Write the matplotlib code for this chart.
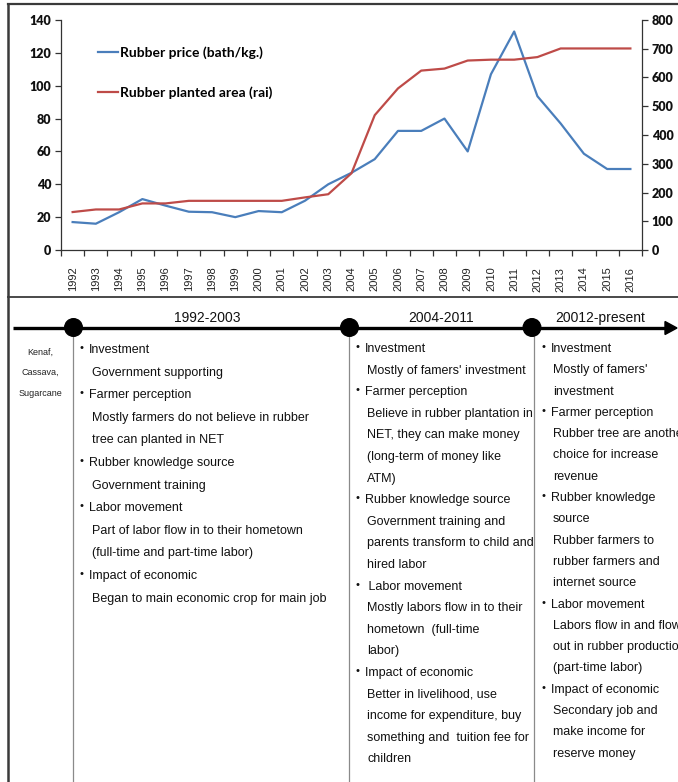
import numpy as np
import matplotlib
matplotlib.use("Agg")
import matplotlib.pyplot as plt
from matplotlib.patches import Circle, Polygon

# data
years = [str(y) for y in range(1992, 2017)]
price = [17, 16, 23, 31, 27, 23.3, 23, 20, 23.7, 23, 30, 40, 47,
         55.3, 72.5, 72.5, 80, 60, 107, 133, 93.6, 77, 58.6, 49.3, 49.3]
area = [132, 141, 141, 162, 162, 171, 171, 171, 171, 171, 183, 194, 267,
        469, 562, 624, 631, 659, 662, 662, 671, 701, 701, 701, 701]

periods = ["1992-2003", "2004-2011", "20012-present"]
old_crops = ["Kenaf,", "Cassava,", "Sugarcane"]

# timeline notes: ("h", text) = bulleted heading, ("s", text) = sub line
notes_1 = [("h", "Investment"), ("s", "Government supporting"),
           ("h", "Farmer perception"), ("s", "Mostly farmers do not believe in rubber"),
           ("s", "tree can planted in NET"),
           ("h", "Rubber knowledge source"), ("s", "Government training"),
           ("h", "Labor movement"), ("s", "Part of labor flow in to their hometown"),
           ("s", "(full-time and part-time labor)"),
           ("h", "Impact of economic"), ("s", "Began to main economic crop for main job")]
notes_2 = [("h", "Investment"), ("s", "Mostly of famers' investment"),
           ("h", "Farmer perception"), ("s", "Believe in rubber plantation in"),
           ("s", "NET, they can make money"), ("s", "(long-term of money like"),
           ("s", "ATM)"),
           ("h", "Rubber knowledge source"), ("s", "Government training and"),
           ("s", "parents transform to child and"), ("s", "hired labor"),
           ("h", " Labor movement"), ("s", "Mostly labors flow in to their"),
           ("s", "hometown  (full-time"), ("s", "labor)"),
           ("h", "Impact of economic"), ("s", "Better in livelihood, use"),
           ("s", "income for expenditure, buy"), ("s", "something and  tuition fee for"),
           ("s", "children")]
notes_3 = [("h", "Investment"), ("s", "Mostly of famers'"), ("s", "investment"),
           ("h", "Farmer perception"), ("s", "Rubber tree are another"),
           ("s", "choice for increase"), ("s", "revenue"),
           ("h", "Rubber knowledge"), ("s", "source"), ("s", "Rubber farmers to"),
           ("s", "rubber farmers and"), ("s", "internet source"),
           ("h", "Labor movement"), ("s", "Labors flow in and flow"),
           ("s", "out in rubber production"), ("s", "(part-time labor)"),
           ("h", "Impact of economic"), ("s", "Secondary job and"),
           ("s", "make income for"), ("s", "reserve money")]

W, H = 678, 782
fig = plt.figure(figsize=(W / 100, H / 100), dpi=100)
fig.patch.set_facecolor("white")

# overlay in pixel units for frames and the timeline
ov = fig.add_axes([0, 0, 1, 1])
ov.set_xlim(0, W)
ov.set_ylim(H, 0)
ov.axis("off")

frame = "#3a3a3a"
ov.plot([7.5, W], [3.5, 3.5], color=frame, lw=1.6)
ov.plot([7.5, 7.5], [3.5, H], color=frame, lw=1.8)
ov.plot([7.5, W], [297, 297], color=frame, lw=1.3)

# timeline arrow
ov.plot([13, 667], [328, 328], color="black", lw=2.4, solid_capstyle="butt")
ov.add_patch(Polygon([[665, 321.5], [677, 328], [665, 334.5]], closed=True,
                     color="black"))
for cx in [73.5, 349.5, 532]:
    ov.add_patch(Circle((cx, 327.5), 8.8, color="black", zorder=3))
for vx in [72.5, 348.5, 533.5]:
    ov.plot([vx, vx], [328, H], color="#8a8a8a", lw=0.9, zorder=1)

tfont = "Liberation Sans"
for lab, cx in zip(periods, [207, 441, 600]):
    ov.text(cx, 318, lab, ha="center", va="center", fontsize=10,
            family=tfont, color="#111")
for i, c in enumerate(old_crops):
    ov.text(40, 352 + i * 20.5, c, ha="center", va="center", fontsize=6.5,
            family=tfont, color="#222")


def draw_notes(notes, xb, xh, xs, y0, step):
    for i, (kind, txt) in enumerate(notes):
        y = y0 + i * step
        if kind == "h":
            ov.text(xb, y - 2, "\u2022", ha="center", va="center", fontsize=8,
                    family=tfont, color="#111")
            ov.text(xh, y, txt, ha="left", va="center", fontsize=9,
                    family=tfont, color="#111")
        else:
            ov.text(xs, y, txt, ha="left", va="center", fontsize=9,
                    family=tfont, color="#111")


draw_notes(notes_1, 81, 89, 92, 350, 22.6)
draw_notes(notes_2, 358, 365, 367, 349, 21.6)
draw_notes(notes_3, 544, 551, 553, 349, 21.3)

# line chart with two y axes
ax = fig.add_axes([61 / W, 1 - 250 / H, 581 / W, 230 / H])
ax.set_facecolor("none")
ax2 = ax.twinx()
x = np.arange(len(years))
blue, red = "#4A7EBB", "#BE4B48"
l1, = ax.plot(x, price, color=blue, lw=1.6, label="Rubber price (bath/kg.)")
l2, = ax2.plot(x, area, color=red, lw=1.6, label="Rubber planted area (rai)")

ax.set_xlim(-0.5, len(years) - 0.5)
ax.set_ylim(0, 140)
ax2.set_ylim(0, 800)
ax.set_yticks(range(0, 141, 20))
ax2.set_yticks(range(0, 801, 100))

ax.set_xticks(np.arange(-0.5, len(years), 1))
ax.set_xticklabels([])
ax.set_xticks(x, minor=True)
ax.set_xticklabels(years, minor=True, rotation=90, fontsize=8,
                   family=tfont, color="#222")
ax.tick_params(axis="x", which="major", length=4, width=0.9, color="#333")
ax.tick_params(axis="x", which="minor", length=0, pad=12)

cfont = "Lato"
for a in (ax, ax2):
    a.tick_params(axis="y", length=4, width=0.9, color="#333", pad=3)
    for t in a.get_yticklabels():
        t.set_fontfamily(cfont)
        t.set_fontweight("heavy")
        t.set_fontsize(9)
        t.set_color("#111")

for s in ["top", "right"]:
    ax.spines[s].set_visible(False)
for s in ["top", "left", "bottom"]:
    ax2.spines[s].set_visible(False)
for a, s in [(ax, "left"), (ax, "bottom"), (ax2, "right")]:
    a.spines[s].set_color("#333")
    a.spines[s].set_linewidth(0.9)

leg = ax2.legend([l1, l2], [l1.get_label(), l2.get_label()], frameon=False,
                 loc="upper left", bbox_to_anchor=(98 / W, 1 - 46 / H),
                 bbox_transform=fig.transFigure, borderaxespad=0, borderpad=0,
                 handlelength=1.45, handletextpad=0.15, labelspacing=2.0,
                 prop={"family": cfont, "weight": "bold", "size": 10})

fig.savefig("out.png", dpi=100)
